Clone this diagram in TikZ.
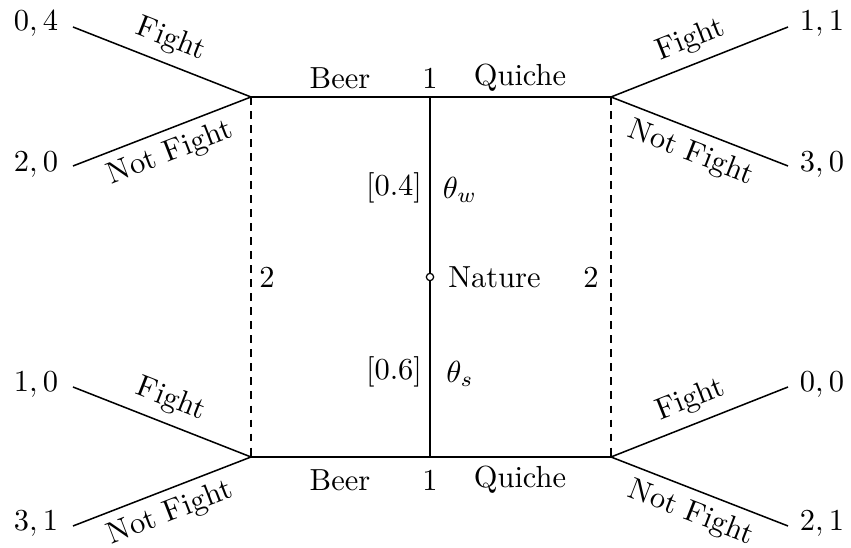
\documentclass[tikz,border=0pt]{standalone}
\begin{document}
\begin{tikzpicture}[x=0.328pt,y=-0.328pt,
  every node/.style={inner sep=2pt},
  move/.style={line width=0.5pt},
  chance/.style={line width=0.9pt},
  infoset/.style={line width=0.5pt,dash pattern=on 2.6pt off 2pt},
  naturenode/.style={circle,draw,fill=white,inner sep=0pt,minimum size=2.4pt,line width=0.4pt},
  act/.style={sloped,inner sep=3pt}]
\useasboundingbox (0,0) rectangle (851,548);
% decision nodes
\coordinate (TL) at (251,97);
\coordinate (TR) at (611,97);
\coordinate (BL) at (251,457);
\coordinate (BR) at (611,457);
\coordinate (T) at (430,97);
\coordinate (B) at (430,457);
\node[naturenode] (N) at (430,277) {};
% leaves
\coordinate (la) at (73,27);
\coordinate (lb) at (73,166);
\coordinate (lc) at (73,387);
\coordinate (ld) at (73,526);
\coordinate (ra) at (788,27);
\coordinate (rb) at (788,166);
\coordinate (rc) at (788,387);
\coordinate (rd) at (788,526);
% payoffs
\node (pa) at (36,24) {$0,4$};
\node (pb) at (36,165) {$2,0$};
\node (pc) at (36,385) {$1,0$};
\node (pd) at (36,524) {$3,1$};
\node (qa) at (822,24) {$1,1$};
\node (qb) at (822,165) {$3,0$};
\node (qc) at (822,385) {$0,0$};
\node (qd) at (822,524) {$2,1$};
% moves of player 1
\draw[move] (TL) -- (T) -- (TR);
\draw[move] (BL) -- (B) -- (BR);
\draw[chance] (T) -- (N);
\draw[chance] (N) -- (B);
% information sets
\draw[infoset] (TL) -- (BL);
\draw[infoset] (TR) -- (BR);
% moves of player 2
\draw[move] (la) -- node[act,above] {Fight} (TL);
\draw[move] (lb) -- node[act,below] {Not Fight} (TL);
\draw[move] (lc) -- node[act,above] {Fight} (BL);
\draw[move] (ld) -- node[act,below] {Not Fight} (BL);
\draw[move] (TR) -- node[act,above] {Fight} (ra);
\draw[move] (TR) -- node[act,below] {Not Fight} (rb);
\draw[move] (BR) -- node[act,above] {Fight} (rc);
\draw[move] (BR) -- node[act,below] {Not Fight} (rd);
% labels
\node (beerT) at (340,78) {Beer};
\node (oneT) at (430,78) {1};
\node (quicheT) at (520,78) {Quiche};
\node (beerB) at (340,480) {Beer};
\node (oneB) at (430,480) {1};
\node (quicheB) at (520,480) {Quiche};
\node (pw) at (394,188) {[0.4]};
\node (tw) at (460,190) {$\theta_w$};
\node (ps) at (394,372) {[0.6]};
\node (ts) at (460,374) {$\theta_s$};
\node[anchor=west,xshift=2.4pt] (nat) at (N.east) {Nature};
\node (twoL) at (267,277) {2};
\node (twoR) at (591,277) {2};
\end{tikzpicture}
\end{document}
